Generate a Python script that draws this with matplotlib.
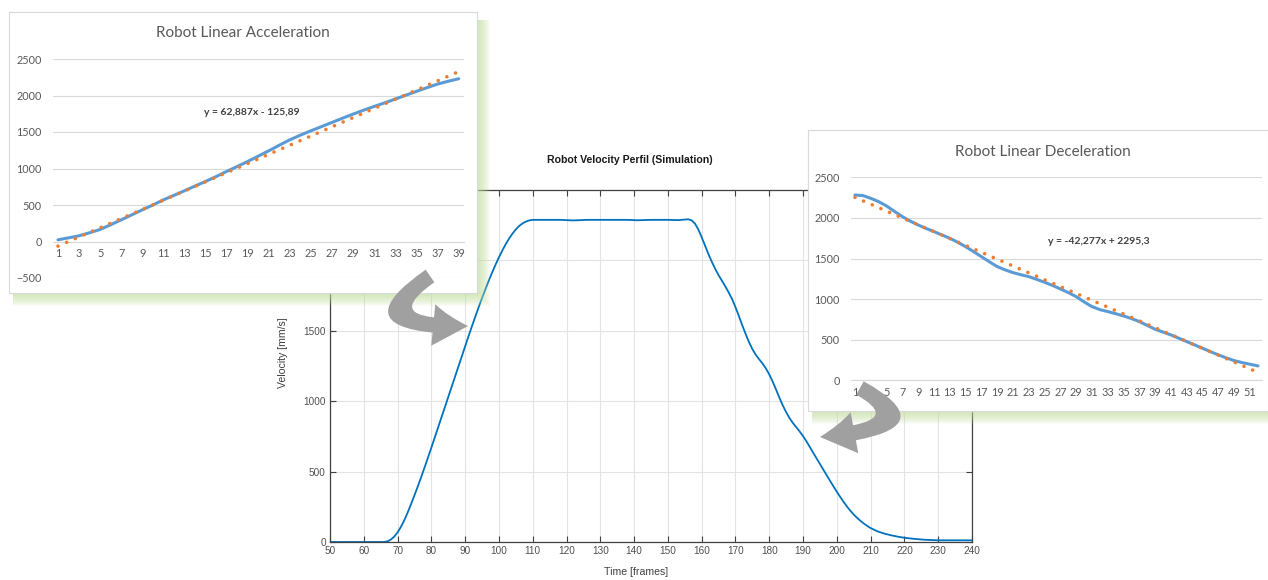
import matplotlib.pyplot as plt
from matplotlib.patches import Rectangle, FancyArrowPatch
from matplotlib.path import Path

W, H = 1268, 580

# main velocity profile (frames, mm/s)
frames = ([50, 60, 66, 67, 68, 69, 70, 71, 72, 73, 74, 75, 76, 77, 78, 79, 80, 81, 82, 83, 84, 85,
           86, 87, 88, 89, 90, 91, 92, 93, 94, 95, 96, 97, 98, 99, 100, 101, 102, 103, 104, 105,
           106, 107, 108, 109, 110, 113, 118, 122, 126, 132, 138, 141, 145, 150, 153, 156, 157,
           158, 159, 160, 161, 162, 163, 164, 165, 166, 167, 168, 169, 170, 171, 172, 173, 174,
           175, 176, 177, 178, 179, 180, 181, 182, 183, 184, 185, 186, 187, 188, 189, 190, 191,
           192, 193, 194, 195, 196, 197, 198, 199, 200, 201, 202, 203, 204, 205, 206, 207, 208,
           209, 210, 212, 214, 216, 218, 220, 223, 226, 230, 240])
velocity = ([0, 0, 0, 5, 17, 38, 68, 108, 155, 210, 270, 332, 396, 462, 530, 600, 670, 742, 814, 886,
             958, 1030, 1102, 1174, 1246, 1318, 1390, 1462, 1532, 1600, 1668, 1733, 1796, 1857, 1915,
             1970, 2022, 2070, 2115, 2155, 2190, 2220, 2245, 2263, 2276, 2284, 2288, 2288, 2288, 2284,
             2288, 2288, 2288, 2285, 2288, 2288, 2286, 2292, 2285, 2262, 2220, 2165, 2105, 2045, 1990,
             1940, 1895, 1855, 1815, 1772, 1725, 1668, 1605, 1540, 1478, 1420, 1370, 1330, 1298, 1268,
             1233, 1190, 1140, 1083, 1025, 970, 922, 880, 845, 815, 785, 752, 715, 675, 634, 594, 554,
             514, 474, 434, 395, 357, 320, 285, 252, 222, 195, 171, 150, 131, 114, 99, 76, 60, 48, 38,
             30, 22, 16, 12, 12])
vel_ticks = [0, 500, 1000, 1500, 2000, 2500]
vel_labels = ['0', '500', '1000', '1500', '', '']  # upper ones sit under the inset card

# acceleration inset (Excel chart)
acc = [23, 50, 78, 120, 165, 230, 297, 365, 434, 500, 571, 632, 695, 760, 823, 890, 960, 1028, 1097,
       1170, 1243, 1320, 1394, 1458, 1517, 1575, 1632, 1690, 1746, 1800, 1851, 1900, 1952, 2005, 2057,
       2108, 2157, 2195, 2230]
acc_trend = [-63, 2327]
acc_eq = "y = 62,887x - 125,89"

# deceleration inset
dec = [2282, 2275, 2241, 2200, 2147, 2080, 2016, 1960, 1913, 1870, 1831, 1790, 1749, 1700, 1646, 1585,
       1523, 1460, 1400, 1360, 1326, 1300, 1277, 1243, 1207, 1168, 1125, 1080, 1030, 965, 907, 870,
       846, 820, 792, 760, 722, 675, 628, 593, 558, 517, 476, 435, 394, 352, 312, 275, 242, 218, 197, 177]
dec_trend = [2253, 97]
dec_eq = "y = -42,277x + 2295,3"


def box(x0, y0, x1, y1):
    return [x0 / W, 1 - y1 / H, (x1 - x0) / W, (y1 - y0) / H]


fig = plt.figure(figsize=(W / 100, H / 100), dpi=100)

# ---- main MATLAB-style plot
ax = fig.add_axes(box(330, 190, 972, 542), zorder=0)
ax.plot(frames, velocity, color='#0072BD', lw=1.3, solid_joinstyle='round')
ax.set_xlim(50, 240)
ax.set_ylim(0, 2500)
ax.set_xticks(range(50, 241, 10))
ax.set_yticks(vel_ticks, vel_labels)
ax.grid(True, color='#e3e3e3', lw=0.8)
ax.tick_params(direction='in', top=True, right=True, labelsize=7.2, labelcolor='#505050',
               color='#404040', length=4, pad=3)
for lab in ax.get_xticklabels() + ax.get_yticklabels():
    lab.set_family('Liberation Sans')
for s in ax.spines.values():
    s.set_color('#404040')
    s.set_linewidth(0.9)
fig.text(630 / W, 1 - 160 / H, 'Robot Velocity Perfil (Simulation)', ha='center', va='center',
         fontweight='bold', fontsize=7.6, family='Liberation Sans', color='#1a1a1a')
fig.text(636 / W, 1 - 572 / H, 'Time [frames]', ha='center', va='center', fontsize=7.6,
         family='Liberation Sans', color='#404040')
fig.text(283 / W, 1 - 353 / H, 'Velocity [mm/s]', ha='center', va='center', rotation=90,
         fontsize=7.6, family='Liberation Sans', color='#404040')


def excel_panel(frame_box, plot_box, title, title_xy, values, trend, ylim, eq, eq_pos):
    x0, y0, x1, y1 = frame_box
    # soft green glow under the card
    for i in range(1, 14):
        fig.add_artist(Rectangle(((x0 + 4) / W, 1 - (y1 + i) / H),
                                 (x1 + i - x0 - 4) / W, (y1 + i - y0 - 8) / H,
                                 transform=fig.transFigure, color='#c2e09c', alpha=0.08,
                                 lw=0, zorder=1))
    fig.add_artist(Rectangle((x0 / W, 1 - y1 / H), (x1 - x0) / W, (y1 - y0) / H,
                             transform=fig.transFigure, facecolor='white', edgecolor='#d9d9d9',
                             lw=0.8, zorder=2))
    fig.text(title_xy[0] / W, 1 - title_xy[1] / H, title, ha='center',
             va='center', fontsize=11, family='Lato', color='#595959', zorder=4)
    a = fig.add_axes(box(*plot_box), zorder=3)
    a.patch.set_visible(False)
    n = len(values)
    cats = list(range(1, n + 1))
    a.plot(cats, values, color='#5B9BD5', lw=2.2, solid_capstyle='round', zorder=3)
    a.plot([1, n], trend, color='#ED7D31', lw=2.6, ls=(0, (0.01, 2.6)),
           dash_capstyle='round', zorder=4)
    a.set_xlim(0.5, n + 0.5)
    a.set_ylim(*ylim)
    yt = list(range(ylim[0], ylim[1] + 1, 500))
    a.set_yticks(yt)
    for v in yt:
        a.axhline(v, color='#d9d9d9', lw=0.8, zorder=1)
    a.set_xticks(cats[::2])
    for s in ['top', 'right', 'left']:
        a.spines[s].set_visible(False)
    a.spines['bottom'].set_position(('data', 0))
    a.spines['bottom'].set_color('#d9d9d9')
    a.tick_params(length=0, labelsize=7.8, labelcolor='#595959')
    a.tick_params(axis='x', pad=5)
    a.tick_params(axis='y', pad=8)
    for lab in a.get_xticklabels() + a.get_yticklabels():
        lab.set_family('Lato')
    a.text(eq_pos[0], eq_pos[1], eq, ha='center', va='center', fontsize=7.5, family='Lato',
           fontweight='bold', color='#404040')
    return a


excel_panel((9, 12, 477, 293), (52.7, 59, 464, 278), 'Robot Linear Acceleration', (243, 33),
            acc, acc_trend, (-500, 2500), acc_eq, (19.4, 1767))
excel_panel((808, 130, 1268, 411), (851, 177.3, 1262, 380.3), 'Robot Linear Deceleration', (1043, 152),
            dec, dec_trend, (0, 2500), dec_eq, (31.8, 1715))


def curved_arrow(a, c, b):
    verts = [(a[0] / W, 1 - a[1] / H), (c[0] / W, 1 - c[1] / H), (b[0] / W, 1 - b[1] / H)]
    p = Path(verts, [Path.MOVETO, Path.CURVE3, Path.CURVE3])
    arr = FancyArrowPatch(path=p, transform=fig.transFigure,
                          arrowstyle='simple,head_length=1.25,head_width=1.5,tail_width=0.55',
                          mutation_scale=20, color='#a0a0a0', lw=0, zorder=10)
    fig.add_artist(arr)


curved_arrow((430, 276), (355, 328), (468, 326))
curved_arrow((860, 388), (932, 428), (820, 437))

fig.savefig('out.png', dpi=100, facecolor='white')
